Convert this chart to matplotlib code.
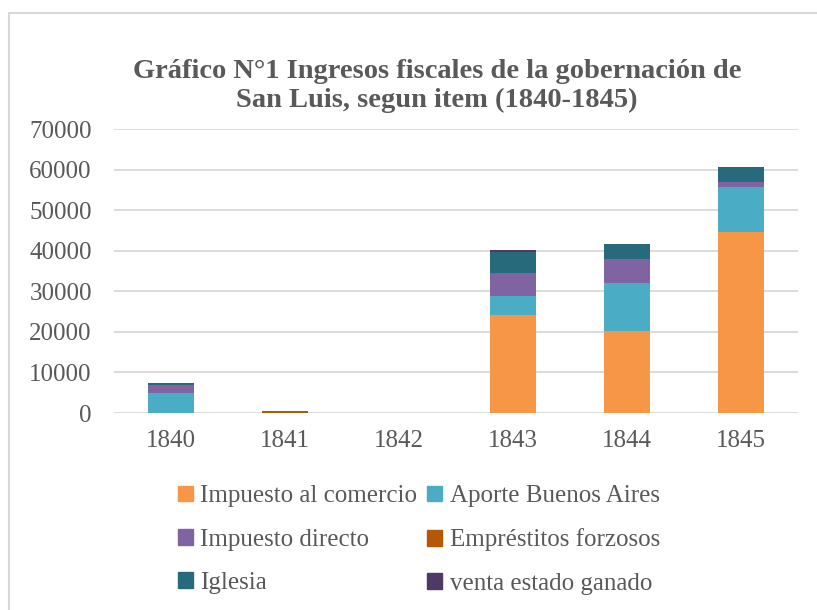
import matplotlib
matplotlib.use("Agg")
import matplotlib.pyplot as plt
from matplotlib.patches import Rectangle, Patch
import numpy as np

years = ["1840", "1841", "1842", "1843", "1844", "1845"]
series_names = ["Impuesto al comercio", "Aporte Buenos Aires", "Impuesto directo",
                "Empréstitos forzosos", "Iglesia", "venta estado ganado"]
impuesto_comercio = [0, 0, 0, 24200, 20100, 44700]
aporte_ba = [5000, 0, 0, 4600, 11850, 11100]
impuesto_directo = [1900, 0, 0, 5700, 5950, 1100]
emprestitos = [0, 600, 0, 0, 0, 0]
iglesia = [500, 0, 0, 5250, 3700, 3850]
venta_ganado = [0, 0, 0, 420, 0, 0]
colors = ["#F79646", "#4BACC6", "#8064A2", "#B65708", "#276A7C", "#4F3A65"]

series = [impuesto_comercio, aporte_ba, impuesto_directo, emprestitos, iglesia, venta_ganado]

plt.rcParams['font.family'] = ['Liberation Serif', 'DejaVu Serif']
gray = "#595959"

fig = plt.figure(figsize=(8.17, 6.10), dpi=100)
ax = fig.add_axes([114/817, 1-413/610, 684/817, 284/610])

x = np.arange(len(years))
bottom = np.zeros(len(years))
handles = []
for name, vals, c in zip(series_names, series, colors):
    v = np.array(vals, dtype=float)
    ax.bar(x, v, width=0.4, bottom=bottom, color=c, linewidth=0, zorder=3)
    bottom += v
    handles.append(Patch(facecolor=c, edgecolor=c))

ax.set_xlim(-0.5, 5.5)
ax.set_ylim(0, 70000)
ax.set_yticks(np.arange(0, 70001, 10000))
ax.set_xticks(x)
ax.set_xticklabels(years)
ax.yaxis.grid(True, color="#D9D9D9", linewidth=1.3, zorder=0)
ax.set_axisbelow(True)
for s in ax.spines.values():
    s.set_visible(False)
ax.tick_params(axis='both', length=0, labelsize=18, labelcolor=gray)
ax.tick_params(axis='y', pad=16)
ax.tick_params(axis='x', pad=12)

fig.text(437/817, 1-86/610, "Gráfico N°1 Ingresos fiscales de la gobernación de\nSan Luis, segun item (1840-1845)",
         ha="center", va="center", fontsize=20.5, fontweight="bold", color=gray, linespacing=1.2)

order = [0, 2, 4, 1, 3, 5]
leg = fig.legend([handles[i] for i in order], [series_names[i] for i in order],
                 ncol=2, loc="center left", bbox_to_anchor=(155/817, 1-540/610),
                 frameon=False, fontsize=18, labelcolor=gray,
                 handlelength=0.6, handleheight=0.6, handletextpad=0.3,
                 columnspacing=0.4, labelspacing=0.85)

fig.patches.append(Rectangle((9/817, -0.05), 1.2, 1-13/610+0.05, transform=fig.transFigure,
                             fill=False, edgecolor="#D9D9D9", linewidth=1.5))

fig.savefig("out.png", dpi=100, facecolor="white")
